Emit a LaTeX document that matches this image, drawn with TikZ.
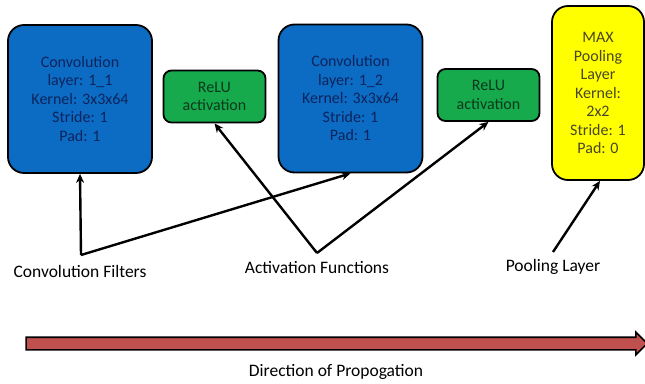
\documentclass[tikz,border=0pt]{standalone}
\usepackage{fontspec}
\setmainfont{Carlito}
\usetikzlibrary{arrows.meta,shapes.arrows}

\definecolor{convblue}{RGB}{12,108,196}
\definecolor{convtext}{RGB}{12,36,92}
\definecolor{relugreen}{RGB}{22,170,76}
\definecolor{relutext}{RGB}{10,56,28}
\definecolor{poolyellow}{RGB}{255,255,0}
\definecolor{pooltext}{RGB}{72,70,36}
\definecolor{propred}{RGB}{192,80,77}

\begin{document}
\begin{tikzpicture}[x=1pt,y=-1pt,
  layerbox/.style={draw=black, line width=1.8pt, rounded corners=16pt,
    align=center, inner sep=0pt, font=\fontsize{16}{18.5}\selectfont},
  convbox/.style={layerbox, fill=convblue, text=convtext,
    minimum width=144pt, minimum height=148pt},
  relubox/.style={layerbox, rounded corners=8pt, fill=relugreen, text=relutext,
    minimum width=102pt, minimum height=52pt},
  poolbox/.style={layerbox, fill=poolyellow, text=pooltext,
    minimum width=92pt, minimum height=174pt},
  caption/.style={font=\fontsize{17.5}{20}\selectfont, inner sep=0pt},
  conn/.style={draw=black, line width=2.4pt,
    -{Stealth[length=9pt,width=8pt]}}
]
\useasboundingbox (0,0) rectangle (645,383);

% layer boxes
\node[convbox] (conv1) at (80,99) {Convolution\\layer: 1\_1\\Kernel: 3x3x64\\Stride: 1\\Pad: 1};
\node[relubox] (relu1) at (214.5,96.5) {ReLU\\activation};
\node[convbox] (conv2) at (350.5,98.5) {Convolution\\layer: 1\_2\\Kernel: 3x3x64\\Stride: 1\\Pad: 1};
\node[relubox] (relu2) at (488.5,95) {ReLU\\activation};
\node[poolbox] (pool) at (598,93) {MAX\\Pooling\\Layer\\Kernel:\\2x2\\Stride: 1\\Pad: 0};

% captions under the layers
\node[caption] (cfcap) at (80,271) {Convolution Filters};
\node[caption] (afcap) at (317,268) {Activation Functions};
\node[caption] (plcap) at (553,267) {Pooling Layer};

% where the pointer lines meet
\coordinate (cf) at (81,255);
\coordinate (af) at (317,253);
\coordinate (pl) at (553,252);

\draw[conn] (cf) -- (conv1.south);
\draw[conn] (cf) -- (conv2.south);
\draw[conn] (af) -- (relu1.south);
\draw[conn] (af) -- (relu2.south);
\draw[conn] (pl) -- ([xshift=2pt]pool.south);

% direction of propagation: shaft 11pt thick, head 21pt wide
\node[single arrow, draw=black, line width=1.6pt, fill=propred,
  inner xsep=0pt, inner ysep=5.5pt, minimum height=621pt,
  single arrow head extend=5pt, single arrow tip angle=90]
  (prop) at (333.5,343.5) {};
\node[caption] (propcap) at (336,372) {Direction of Propogation};
\end{tikzpicture}
\end{document}
